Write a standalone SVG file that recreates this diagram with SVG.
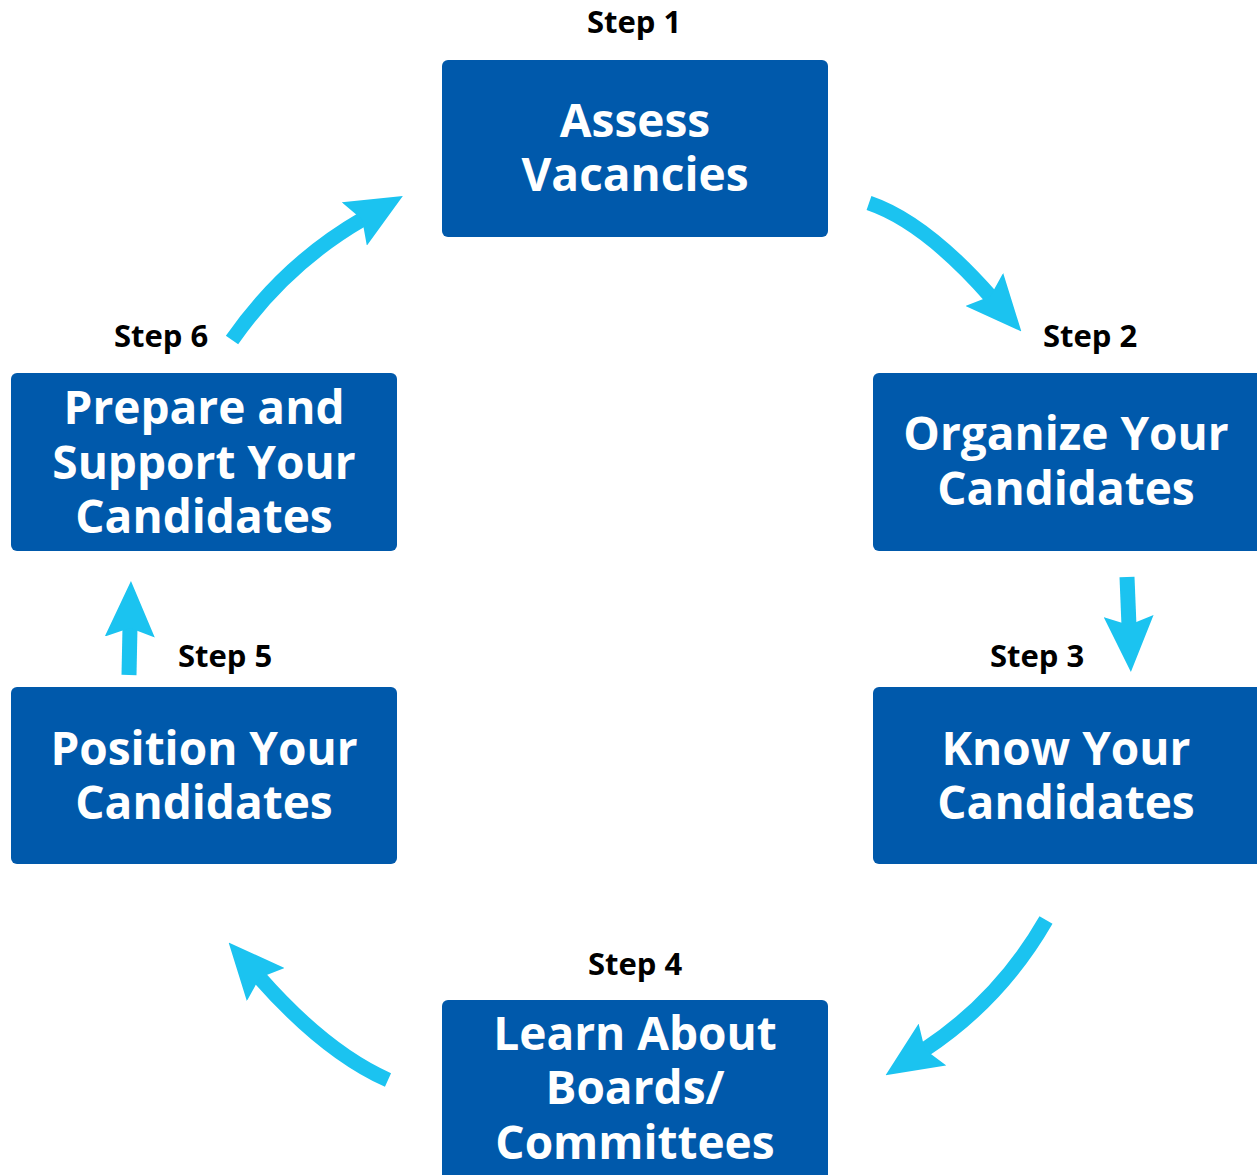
<svg xmlns="http://www.w3.org/2000/svg" width="1257" height="1175" viewBox="0 0 1257 1175">
<style>
.box{fill:#0059AB}
.t{font-family:"Open Sans","Noto Sans","Liberation Sans",sans-serif;font-weight:700;font-size:46px;fill:#fff;text-anchor:middle}
.s{font-family:"Open Sans","Noto Sans","Liberation Sans",sans-serif;font-weight:700;font-size:31px;fill:#000;text-anchor:middle}
.c{fill:none;stroke:#1BC3F0;stroke-width:15;marker-end:url(#ah)}
</style>
<defs>
<marker id="ah" markerUnits="userSpaceOnUse" viewBox="0 0 56 50" refX="10" refY="25" markerWidth="56" markerHeight="50" orient="auto">
<path d="M0,0 L56,25 L0,50 L9,25 Z" fill="#1BC3F0"/>
</marker>
</defs>
<rect width="1257" height="1175" fill="#fff"/>
<g id="connectors">
<path class="c" d="M869,203 Q925,222 991,297"/>
<path class="c" d="M1127,577 L1129,626"/>
<path class="c" d="M1046,920 Q1000,1000 924,1050"/>
<path class="c" d="M388,1080 Q325,1052 259,977"/>
<path class="c" d="M129,675 L130,627"/>
<path class="c" d="M232,340 Q285,264 363,219"/>
</g>
<g id="step1">
<text class="s" x="634" y="33">Step 1</text>
<rect class="box" x="442" y="60" width="386" height="177" rx="6"/>
<text class="t" x="635" y="137">Assess</text>
<text class="t" x="635" y="191">Vacancies</text>
</g>
<g id="step2">
<text class="s" x="1090" y="347">Step 2</text>
<rect class="box" x="873" y="373" width="390" height="178" rx="6"/>
<text class="t" x="1066" y="450">Organize Your</text>
<text class="t" x="1066" y="505">Candidates</text>
</g>
<g id="step3">
<text class="s" x="1037" y="667">Step 3</text>
<rect class="box" x="873" y="687" width="390" height="177" rx="6"/>
<text class="t" x="1066" y="765">Know Your</text>
<text class="t" x="1066" y="819">Candidates</text>
</g>
<g id="step4">
<text class="s" x="635" y="975">Step 4</text>
<rect class="box" x="442" y="1000" width="386" height="185" rx="6"/>
<text class="t" x="635" y="1050">Learn About</text>
<text class="t" x="635" y="1104">Boards/</text>
<text class="t" x="635" y="1159">Committees</text>
</g>
<g id="step5">
<text class="s" x="225" y="667">Step 5</text>
<rect class="box" x="11" y="687" width="386" height="177" rx="6"/>
<text class="t" x="204" y="765">Position Your</text>
<text class="t" x="204" y="819">Candidates</text>
</g>
<g id="step6">
<text class="s" x="161" y="347">Step 6</text>
<rect class="box" x="11" y="373" width="386" height="178" rx="6"/>
<text class="t" x="204" y="424">Prepare and</text>
<text class="t" x="204" y="479">Support Your</text>
<text class="t" x="204" y="533">Candidates</text>
</g>
</svg>
